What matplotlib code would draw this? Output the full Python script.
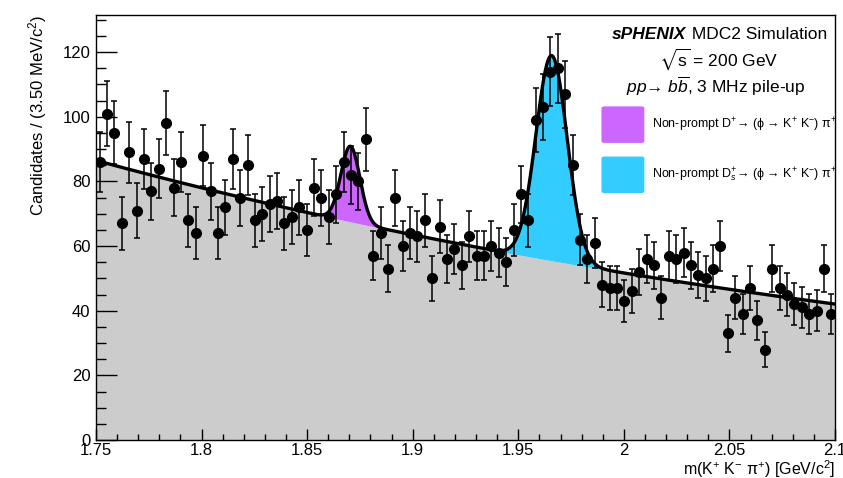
import numpy as np
import matplotlib
matplotlib.use("Agg")
import matplotlib.pyplot as plt
from matplotlib.patches import FancyBboxPatch
from matplotlib.ticker import MultipleLocator, FuncFormatter

plt.rcParams.update({
    "font.family": ["Liberation Sans", "DejaVu Sans"],
    "mathtext.fontset": "custom",
    "mathtext.rm": "Liberation Sans",
    "mathtext.it": "Liberation Sans:italic",
    "mathtext.bf": "Liberation Sans:bold",
    "mathtext.sf": "Liberation Sans",
    "mathtext.fallback": "stixsans",
})

# histogram: 100 bins of 3.5 MeV between 1.75 and 2.10 GeV
x_lo, x_hi = 1.75, 2.10
n_bins = 100
counts = [86, 101, 95, 67, 89, 71, 87, 77, 84, 98,
          78, 86, 68, 64, 88, 77, 64, 72, 87, 75,
          85, 68, 70, 73, 74, 67, 69, 72, 65, 78,
          75, 69, 76, 86, 82, 80, 93, 57, 64, 53,
          75, 60, 64, 63, 68, 50, 66, 56, 59, 54,
          63, 57, 57, 60, 58, 55, 65, 76, 68, 99,
          103, 114, 115, 107, 85, 62, 56, 61, 48, 47,
          47, 43, 46, 52, 56, 54, 44, 57, 56, 58,
          54, 51, 50, 53, 60, 33, 44, 39, 47, 37,
          28, 53, 47, 45, 42, 41, 39, 40, 53, 39]

# fit result: exponential background + two gaussians
bkg_norm, bkg_slope = 86.5, -2.06
dplus_amp, dplus_mean, dplus_sigma = 23.4, 1.8705, 0.0045
ds_amp, ds_mean, ds_sigma = 63.5, 1.9658, 0.0074

col_bkg = "#cccccc"
col_dplus = "#cc66ff"
col_ds = "#33ccff"

edges = np.linspace(x_lo, x_hi, n_bins + 1)
centers = 0.5 * (edges[:-1] + edges[1:])
counts = np.array(counts, dtype=float)

xs = np.linspace(x_lo, x_hi, 1500)
bkg = bkg_norm * np.exp(bkg_slope * (xs - x_lo))
g_dplus = dplus_amp * np.exp(-0.5 * ((xs - dplus_mean) / dplus_sigma) ** 2)
g_ds = ds_amp * np.exp(-0.5 * ((xs - ds_mean) / ds_sigma) ** 2)
total = bkg + g_dplus + g_ds

fig = plt.figure(figsize=(8.43, 4.78), dpi=100)
ax = fig.add_axes([0.1139, 0.0795, 0.8766, 0.8891])

ax.fill_between(xs, 0, bkg, color=col_bkg, lw=0, zorder=1)
m1 = g_dplus > 0.05
ax.fill_between(xs[m1], bkg[m1], bkg[m1] + g_dplus[m1], color=col_dplus, lw=0, zorder=2)
m2 = g_ds > 0.05
ax.fill_between(xs[m2], bkg[m2], bkg[m2] + g_ds[m2], color=col_ds, lw=0, zorder=2)
ax.plot(xs, total, color="black", lw=2.4, zorder=3)

ax.errorbar(centers, counts, yerr=np.sqrt(counts), fmt="o", color="black",
            ms=7, elinewidth=1.1, capsize=2.5, capthick=1.1, zorder=4)

ax.set_xlim(x_lo, x_hi)
ax.set_ylim(0, 131.5)

ax.xaxis.set_major_locator(MultipleLocator(0.05))
ax.xaxis.set_minor_locator(MultipleLocator(0.01))
ax.yaxis.set_major_locator(MultipleLocator(20))
ax.yaxis.set_minor_locator(MultipleLocator(5))
ax.xaxis.set_major_formatter(FuncFormatter(lambda v, p: "%g" % round(v, 3)))
ax.tick_params(axis="both", which="both", direction="in", top=False, right=False,
               labelsize=12, width=1)
ax.tick_params(axis="x", which="major", length=8, pad=2)
ax.tick_params(axis="x", which="minor", length=4)
ax.tick_params(axis="y", which="major", length=15, pad=4)
ax.tick_params(axis="y", which="minor", length=7.5)
for side in ("top", "right", "bottom", "left"):
    ax.spines[side].set_linewidth(1)

ax.set_xlabel("m(K$^{+}$ K$^{-}$ π$^{+}$) [GeV/c$^{2}$]", fontsize=11.5, loc="right")
ax.xaxis.set_label_coords(1.0, -0.042)
ax.set_ylabel("Candidates / (3.50 MeV/c$^{2}$)", fontsize=12, loc="top")
ax.yaxis.set_label_coords(-0.064, 1.0)

# sPHENIX labels
t1 = ax.text(0.989, 0.953, " MDC2 Simulation", transform=ax.transAxes,
             ha="right", va="center", fontsize=12.5)
ax.annotate("sPHENIX", xy=(0, 0), xycoords=t1, ha="right", va="bottom",
            fontsize=12.5, fontweight="bold", fontstyle="italic")
ax.text(0.842, 0.896, r"$\sqrt{\mathrm{s}}$ = 200 GeV", transform=ax.transAxes,
        ha="center", va="center", fontsize=12.5)
ax.text(0.839, 0.831, r"$pp$→ $b\overline{b}$, 3 MHz pile-up",
        transform=ax.transAxes, ha="center", va="center", fontsize=12.5)

# legend boxes
legend_items = [
    (col_dplus, "Non-prompt D$^{+}$→ (ϕ → K$^{+}$ K$^{-}$) π$^{+}$", 0.699),
    (col_ds, "Non-prompt D$_{s}^{+}$→ (ϕ → K$^{+}$ K$^{-}$) π$^{+}$", 0.581),
]
for col, label, y0 in legend_items:
    box = FancyBboxPatch((0.684, y0), 0.058, 0.086,
                         boxstyle="round,pad=0,rounding_size=0.004",
                         transform=ax.transAxes, facecolor=col, edgecolor="none",
                         zorder=5)
    ax.add_patch(box)
    ax.text(0.752, y0 + 0.043, label, transform=ax.transAxes, ha="left",
            va="center", fontsize=9, zorder=5)

fig.savefig("out.png", dpi=100)
